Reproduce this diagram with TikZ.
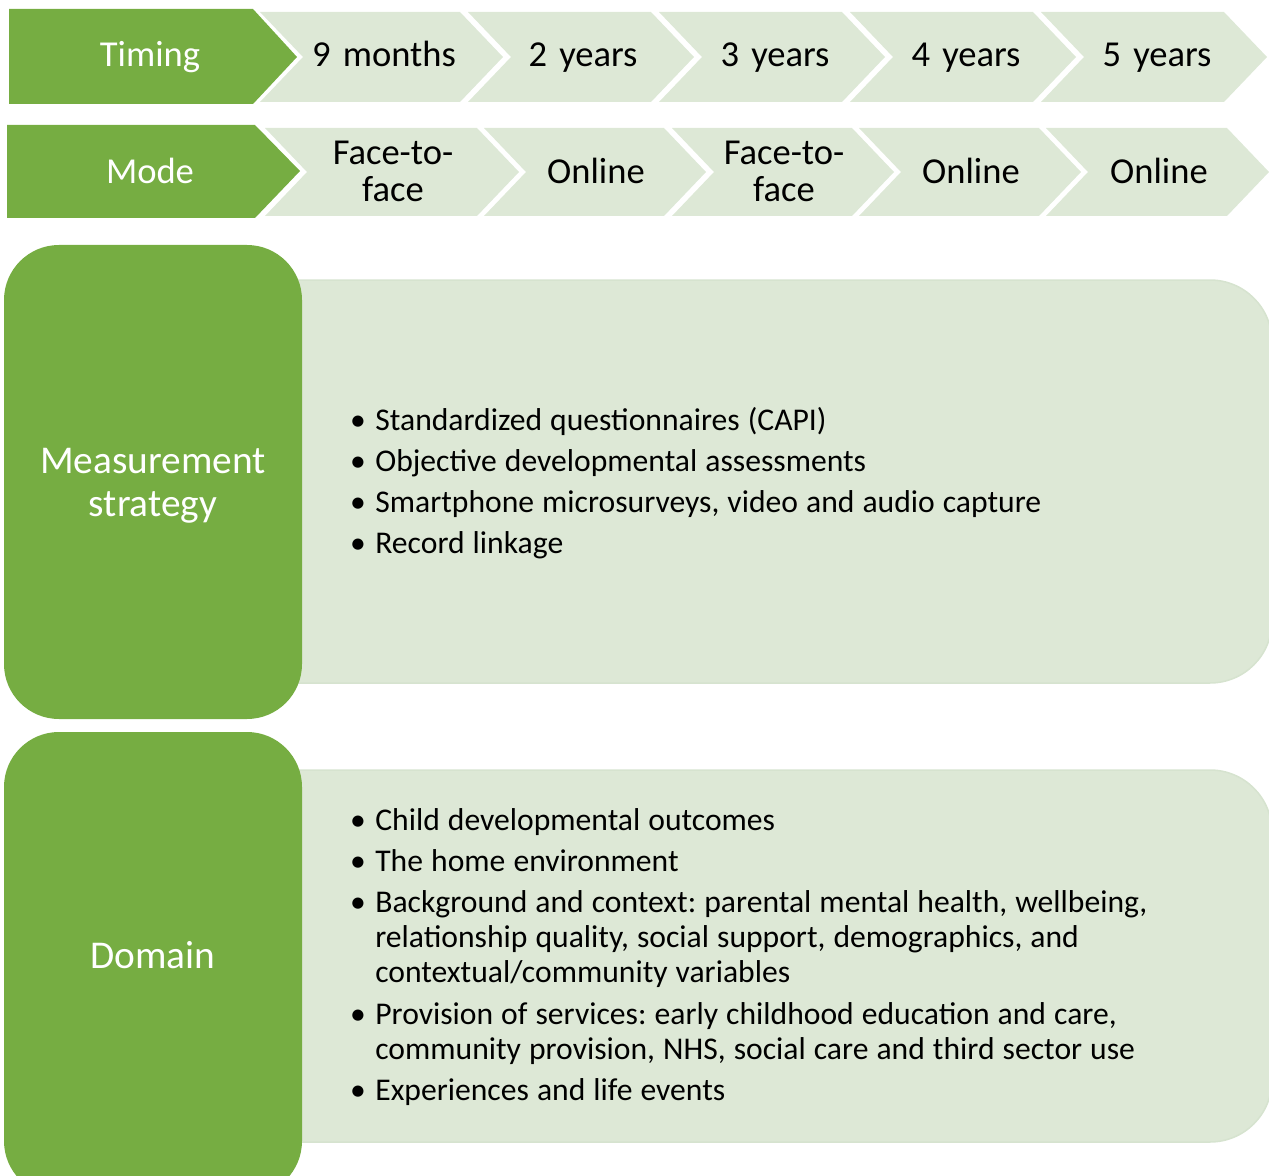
\documentclass[tikz,border=0pt]{standalone}
\usepackage{fontspec}
\setmainfont{Carlito}
\usepackage{tikz}
\definecolor{leafgreen}{HTML}{76AD42}
\definecolor{palegreen}{HTML}{DDE8D6}
\definecolor{paleedge}{HTML}{D6E3CF}
\tikzset{
  headtext/.style={text=white, font=\fontsize{20.8pt}{21pt}\selectfont, anchor=base},
  steptext/.style={text=black, font=\fontsize{20.8pt}{21pt}\selectfont, anchor=base,
    inner sep=0pt, text width=4cm, align=center},
  sidetext/.style={text=white, font=\fontsize{22.4pt}{24.5pt}\selectfont, align=center},
  itemtext/.style={text=black, font=\fontsize{18pt}{20.1pt}\selectfont\frenchspacing,
    anchor=base west, inner sep=0pt, text width=18cm, align=left},
  panel/.style={draw=paleedge, line width=0.03cm, fill=palegreen, rounded corners=1.24cm},
  tab/.style={fill=leafgreen, rounded corners=1.1cm},
}
\newcommand{\bul}{\spaceskip=0.255em plus 0.05em\relax\llap{\textbullet\hspace{0.19cm}}}
\begin{document}
\begin{tikzpicture}[x=0.02cm, y=-0.02cm]
  \useasboundingbox (0,0) rectangle (1269,1176);
  \clip (0,0) rectangle (1269,1176);
  % Timing row
  \fill[leafgreen] (9,9) -- (253,9) -- (297,57) -- (253,104) -- (9,104) -- cycle;
  \node[headtext] (timing) at (150,67) {Timing};
  \foreach \l/\r/\x/\label [count=\i] in {260/460/384/9 months, 468/651/583/2 years,
      659/842/775/3 years, 850/1033/966/4 years, 1041/1224/1157/5 years}{
    \fill[palegreen] (\l,12) -- (\r,12) -- (\r+43,57) -- (\r,102) -- (\l,102) -- (\l+43,57) -- cycle;
    \node[steptext] (time\i) at (\x,67) {\label};
  }
  % Mode row
  \fill[leafgreen] (7,125) -- (255,125) -- (300,171) -- (255,218) -- (7,218) -- cycle;
  \node[headtext] (mode) at (150,184) {Mode};
  \foreach \l/\r/\x/\y/\label [count=\i] in {265/477/393/165/{Face-to-\\face}, 484/664/596/184/Online,
      672/852/784/165/{Face-to-\\face}, 859/1039/971/184/Online, 1046/1227/1159/184/Online}{
    \fill[palegreen] (\l,128) -- (\r,128) -- (\r+42,172) -- (\r,216) -- (\l,216) -- (\l+42,172) -- cycle;
    \node[steptext] (mode\i) at (\x,\y) {\label};
  }
  % Measurement strategy
  \draw[panel] (200,280) rectangle (1272,683);
  \fill[tab] (4,245) rectangle (302,719);
  \node[sidetext] (measure) at (153,486) {Measurement\\strategy};
  \node[itemtext] (meas1) at (375,430) {\bul Standardized questionnaires (CAPI)};
  \node[itemtext] (meas2) at (375,471) {\bul Objective developmental assessments};
  \node[itemtext] (meas3) at (375,512) {\bul Smartphone microsurveys, video and audio capture};
  \node[itemtext] (meas4) at (375,553) {\bul Record linkage};
  % Domain
  \draw[panel] (200,770) rectangle (1272,1142);
  \fill[tab] (4,732) rectangle (302,1196);
  \node[sidetext] (domain) at (153,955) {Domain};
  \node[itemtext] (dom1) at (375,830) {\bul Child developmental outcomes};
  \node[itemtext] (dom2) at (375,871) {\bul The home environment};
  \node[itemtext] (dom3) at (375,912) {\bul Background and context: parental mental health, wellbeing,\\
    relationship quality, social support, demographics, and\\ contextual/community variables};
  \node[itemtext] (dom4) at (375,1024) {\bul Provision of services: early childhood education and care,\\
    community provision, NHS, social care and third sector use};
  \node[itemtext] (dom5) at (375,1100) {\bul Experiences and life events};
\end{tikzpicture}
\end{document}
